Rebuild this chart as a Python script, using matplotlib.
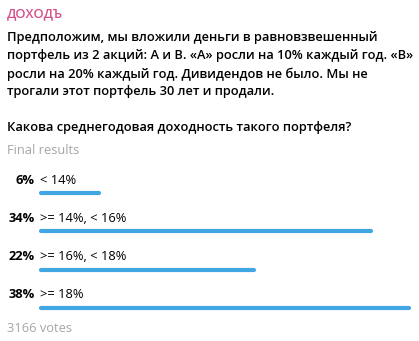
import matplotlib.pyplot as plt

# poll data
title = 'ДОХОДЪ'
question_lines = [
    'Предположим, мы вложили деньги в равновзвешенный',
    'портфель из 2 акций: А и В. «А» росли на 10% каждый год. «В»',
    'росли на 20% каждый год. Дивидендов не было. Мы не',
    'трогали этот портфель 30 лет и продали.',
    '',
    'Какова среднегодовая доходность такого портфеля?',
]
options = ['< 14%', '>= 14%, < 16%', '>= 16%, < 18%', '>= 18%']
percents = [6, 34, 22, 38]
votes = 3166

W, H = 419, 341
plt.rcParams['font.family'] = ['Open Sans', 'DejaVu Sans']

fig = plt.figure(figsize=(W / 100, H / 100), dpi=100)
fig.patch.set_facecolor('white')

# text layer in pixel coordinates
ax = fig.add_axes([0, 0, 1, 1])
ax.set_xlim(0, W)
ax.set_ylim(H, 0)
ax.axis('off')

ax.text(7, 14, title, color='#d6508a', fontsize=9.3, fontweight='semibold', va='center')
for i, line in enumerate(question_lines):
    ax.text(7, 38 + i * 18, line, color='#000000', fontsize=9.3,
            fontweight='semibold', va='center')
ax.text(7, 150, 'Final results', color='#a6a6a6', fontsize=9.3, va='center')
ax.text(7, 329, f'{votes} votes', color='#a6a6a6', fontsize=9.3, va='center')

# bars
bx = fig.add_axes([40.5 / W, 1 - 327 / H, 369 / W, 153 / H])
bx.set_xlim(0, max(percents))
bx.set_ylim(len(options) - 0.5, -0.5)
bx.axis('off')
for i, (opt, p) in enumerate(zip(options, percents)):
    bx.plot([0, p], [i, i], color='#40a7e3', lw=3, solid_capstyle='round',
            clip_on=False)
    bx.annotate(f'{p}%', xy=(0, i), xytext=(-6, 13), textcoords='offset pixels',
                ha='right', va='center', fontsize=9.3, fontweight='bold')
    bx.annotate(opt, xy=(0, i), xytext=(0, 13), textcoords='offset pixels',
                ha='left', va='center', fontsize=9.3)

fig.savefig('out.png', dpi=100)
